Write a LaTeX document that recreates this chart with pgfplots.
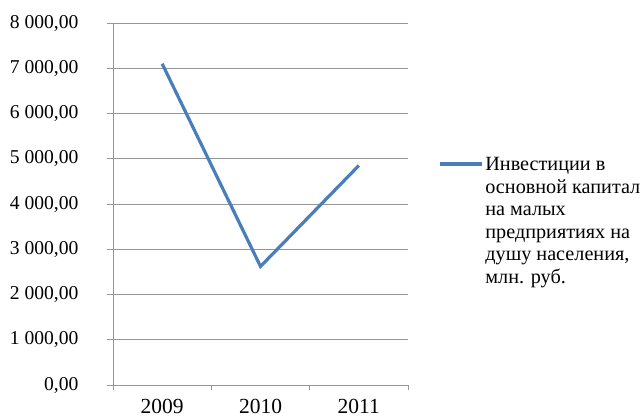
\documentclass[border=0pt]{standalone}
\usepackage{pgfplots}
\pgfplotsset{compat=1.18}
\usepackage{fontspec}
\setmainfont{Liberation Serif}
\definecolor{serblue}{HTML}{4A7EBB}
\definecolor{gridgray}{HTML}{969696}
\begin{document}
\begin{tikzpicture}
\useasboundingbox (-113pt,-34pt) rectangle (531pt,385pt);
\begin{axis}[
  scale only axis,
  width=295pt, height=362pt,
  xmin=-0.5, xmax=2.5,
  ymin=0, ymax=8000,
  ytick={0,1000,...,8000},
  xtick={0,1,2},
  xticklabels={2009,2010,2011},
  minor xtick={-0.5,0.5,1.5,2.5},
  major x tick style={draw=none},
  minor x tick style={gridgray, line width=0.8pt},
  major y tick style={gridgray, line width=0.8pt},
  tick align=outside,
  major tick length=6pt,
  minor tick length=5pt,
  axis lines*=left,
  axis line style={gridgray, line width=0.8pt},
  ymajorgrids,
  grid style={gridgray, line width=0.8pt},
  scaled y ticks=false,
  /pgf/number format/assume math mode=true,
  yticklabel={\pgfmathprintnumber[fixed, fixed zerofill, precision=2, use comma, 1000 sep={\ }]{\tick}},
  yticklabel style={font=\fontsize{19.6}{22}\selectfont, xshift=-25pt},
  xticklabel style={font=\fontsize{21.5}{24}\selectfont, yshift=-5pt},
  legend style={
    at={(325pt,230pt)}, anchor=north west,
    draw=none, fill=none, inner sep=0pt,
    font=\fontsize{20.2}{22.6}\selectfont,
    nodes={align=left, inner sep=2pt},
    legend cell align=left,
  },
  legend image code/.code={\draw[#1, line width=3.2pt] (0pt,57pt) -- (42pt,57pt);},
]
\addplot[serblue, line width=3.2pt, mark=none] coordinates {
  (0,7100) (1,2620) (2,4850)
};
\addlegendentry{Инвестиции в\\основной капитал\\на малых\\предприятиях на\\душу населения,\\млн. руб.}
\end{axis}
\end{tikzpicture}
\end{document}
